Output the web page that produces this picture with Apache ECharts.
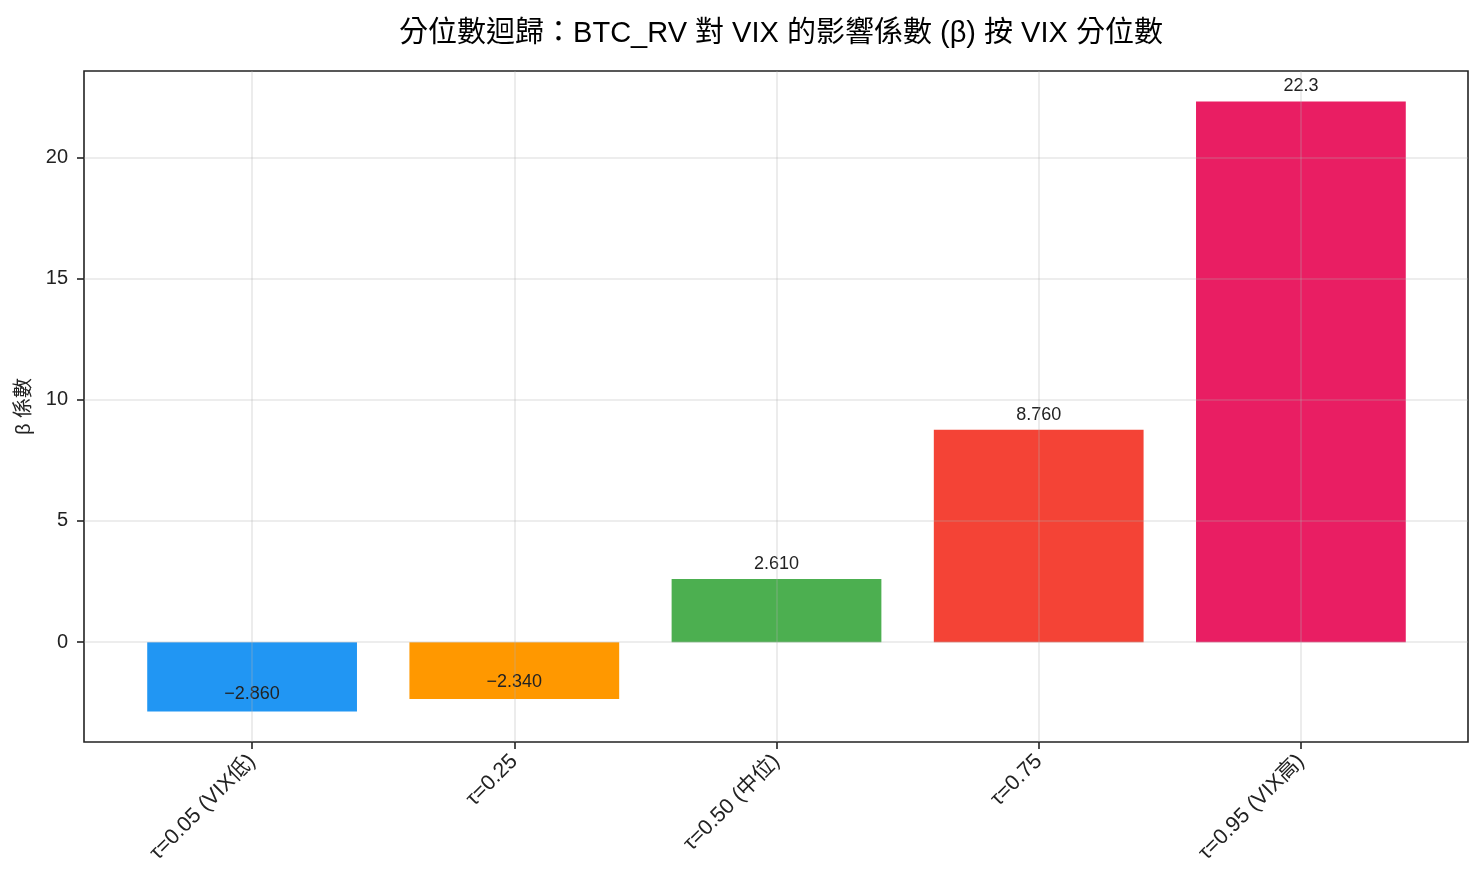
<!DOCTYPE html>
<html>
<head>
<meta charset="utf-8">
<script src="https://cdn.jsdelivr.net/npm/echarts@6/dist/echarts.min.js"></script>
<style>
html,body{margin:0;padding:0;background:#fff;}
#chart{width:1484px;height:884px;}
</style>
</head>
<body>
<div id="chart"></div>
<script>
const categories = ['τ=0.05 (VIX低)', 'τ=0.25', 'τ=0.50 (中位)', 'τ=0.75', 'τ=0.95 (VIX高)'];
const betaValues = [-2.86, -2.34, 2.61, 8.76, 22.3];
const barLabels = ['\u22122.860', '\u22122.340', '2.610', '8.760', '22.3'];
const barColors = ['#2196F3', '#FF9800', '#4CAF50', '#F44336', '#E91E63'];
const yTicks = [0, 5, 10, 15, 20];

const FONT = "'Liberation Sans', 'Noto Sans CJK TC', sans-serif";
const dMin = Math.min(0, ...betaValues), dMax = Math.max(0, ...betaValues);
const pad = (dMax - dMin) * 0.05;
const yMin = dMin - pad, yMax = dMax + pad;
const GRID_COLOR = 'rgba(176,176,176,0.3)';

const chart = echarts.init(document.getElementById('chart'), null, {renderer: 'canvas'});
chart.setOption({
  animation: false,
  backgroundColor: '#fff',
  textStyle: {fontFamily: FONT},
  title: {
    text: '分位數迴歸：BTC_RV 對 VIX 的影響係數 (β) 按 VIX 分位數',
    left: 776, top: 14, textAlign: 'center',
    textStyle: {fontFamily: FONT, fontSize: 29, fontWeight: 'normal', color: '#000'}
  },
  grid: [
    {left: 84, right: 16, top: 71, bottom: 142, outerBoundsMode: 'none', containLabel: false,
     show: true, borderColor: '#222', borderWidth: 1.6, backgroundColor: 'rgba(0,0,0,0)'},
    {left: 121, right: 52, top: 71, bottom: 142, outerBoundsMode: 'none', containLabel: false}
  ],
  xAxis: [
    {gridIndex: 0, type: 'value', show: false, min: 0, max: 1},
    {gridIndex: 1, type: 'category', data: categories, z: 3,
     axisLine: {show: false, onZero: false},
     axisTick: {show: true, alignWithLabel: true, length: 7, lineStyle: {color: '#222', width: 1.6}},
     axisLabel: {rotate: 45, margin: 16, fontSize: 21.5, color: '#222', fontFamily: FONT},
     splitLine: {show: true, alignWithLabel: true, lineStyle: {color: GRID_COLOR, width: 1.6}}
    }
  ],
  yAxis: [
    {gridIndex: 0, type: 'value', min: yMin, max: yMax, minInterval: 5, maxInterval: 5, z: 3,
     axisLine: {show: false},
     axisTick: {show: true, length: 7, customValues: yTicks, lineStyle: {color: '#222', width: 1.6}},
     axisLabel: {fontSize: 20, color: '#222', margin: 16, customValues: yTicks, fontFamily: FONT},
     splitLine: {show: true, lineStyle: {color: GRID_COLOR, width: 1.6}},
     name: 'β 係數', nameLocation: 'middle', nameGap: 48, nameRotate: 90,
     nameTextStyle: {fontSize: 20, color: '#222', fontFamily: FONT}
    },
    {gridIndex: 1, type: 'value', min: yMin, max: yMax, show: false}
  ],
  series: [{
    type: 'bar',
    xAxisIndex: 1, yAxisIndex: 1,
    barWidth: '80%',
    z: 2,
    data: betaValues.map((v, i) => ({
      value: v,
      itemStyle: {color: barColors[i]},
      label: {
        show: true,
        position: v < 0 ? 'insideBottom' : 'top',
        distance: v < 0 ? 8 : 6,
        formatter: () => barLabels[i],
        fontSize: 18, color: '#222', fontFamily: FONT
      }
    }))
  }]
});
</script>
</body>
</html>
